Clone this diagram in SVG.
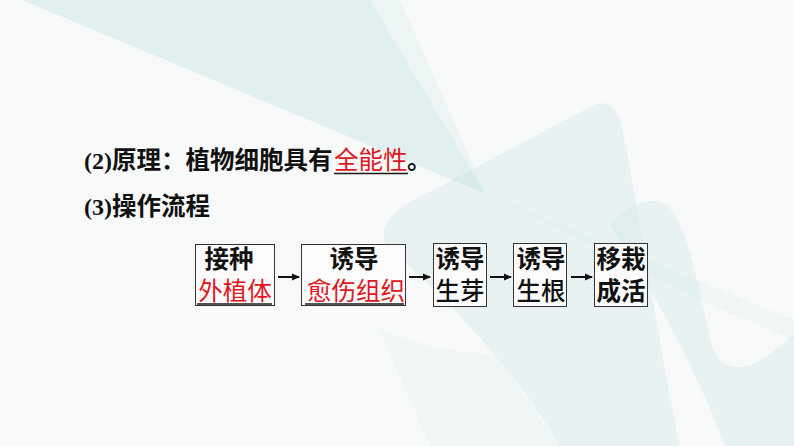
<svg xmlns="http://www.w3.org/2000/svg" width="794" height="446" viewBox="0 0 794 446">
<defs>
<style>
.bk{font-family:"Noto Sans CJK SC","Liberation Sans",sans-serif;font-size:24.5px;font-weight:700;fill:#111}
.bkr{font-family:"Noto Sans CJK SC","Liberation Sans",sans-serif;font-size:24.5px;font-weight:500;fill:#111}
.rd{font-family:"Noto Sans CJK SC","Liberation Sans",sans-serif;font-size:24.5px;font-weight:400;fill:#e0161f}
.num{font-family:"Liberation Serif",serif;font-size:24px;font-weight:700;fill:#111}
.box{fill:#fcfcfc;stroke:#333;stroke-width:1}
.ul{stroke:#1a1a1a;stroke-width:1.6}
.bg{fill:#c3e3e3}
.conn line{stroke:#111;stroke-width:2}
</style>
<marker id="ah" markerWidth="8" markerHeight="8" refX="7" refY="4" orient="auto" markerUnits="userSpaceOnUse">
<path d="M0,0.5 L8,4 L0,7.5 Z" fill="#111"/>
</marker>
</defs>
<rect width="794" height="446" fill="#f8f9f9"/>
<g id="background">
<path class="bg" opacity="0.45" d="M22 0 L370 0 L486 194 Z"/>
<path class="bg" opacity="0.2" d="M370 0 L400 0 L486 194 Z"/>
<path class="bg" opacity="0.28" d="M386 245 C378 228 392 210 420 197 L588 108 C604 98 616 104 621 124 C640 210 652 310 680 446 L560 446 C520 380 470 320 386 245 Z"/>
<path class="bg" opacity="0.28" d="M610 225 C630 202 655 195 668 206 C690 228 700 300 712 345 C720 372 742 372 765 358 L794 334 L794 446 L725 446 C700 380 660 300 610 225 Z"/>
<path class="bg" opacity="0.15" d="M486 194 L794 320 L794 340 L700 300 Z"/>
<path class="bg" opacity="0.15" d="M380 330 C420 345 460 355 495 353 L560 446 L430 446 Z"/>
</g>
<g id="line2">
<text class="num" x="84" y="169">(2)</text>
<text class="bk" x="112" y="169">原理：植物细胞具有</text>
<text class="rd" x="334" y="169">全能性</text>
<line class="ul" x1="334" y1="173.5" x2="408" y2="173.5"/>
<text class="bk" x="407" y="169">。</text>
</g>
<g id="line3">
<text class="num" x="84" y="215">(3)</text>
<text class="bk" x="112" y="215">操作流程</text>
</g>
<g id="node1">
<rect class="box" x="195.5" y="244.5" width="79" height="61"/>
<text class="bk" x="229" y="268" text-anchor="middle">接种</text>
<text class="rd" x="235" y="300" text-anchor="middle">外植体</text>
<line class="ul" x1="197" y1="304" x2="272" y2="304"/>
</g>
<g id="node2">
<rect class="box" x="301.5" y="244.5" width="104" height="61"/>
<text class="bk" x="354" y="268" text-anchor="middle">诱导</text>
<text class="rd" x="356" y="300" text-anchor="middle">愈伤组织</text>
<line class="ul" x1="305" y1="304" x2="404" y2="304"/>
</g>
<g id="node3">
<rect class="box" x="433.5" y="243.5" width="53" height="63"/>
<text class="bk" x="460" y="268" text-anchor="middle">诱导</text>
<text class="bkr" x="460" y="300" text-anchor="middle">生芽</text>
</g>
<g id="node4">
<rect class="box" x="513.5" y="243.5" width="53" height="63"/>
<text class="bk" x="541" y="268" text-anchor="middle">诱导</text>
<text class="bkr" x="541" y="300" text-anchor="middle">生根</text>
</g>
<g id="node5">
<rect class="box" x="594.5" y="243.5" width="53" height="63"/>
<text class="bk" x="621" y="268" text-anchor="middle">移栽</text>
<text class="bk" x="621" y="300" text-anchor="middle">成活</text>
</g>
<g id="connectors" class="conn">
<line x1="278" y1="277" x2="299" y2="277" marker-end="url(#ah)"/>
<line x1="409" y1="277" x2="430" y2="277" marker-end="url(#ah)"/>
<line x1="490" y1="277" x2="511" y2="277" marker-end="url(#ah)"/>
<line x1="571" y1="277" x2="592" y2="277" marker-end="url(#ah)"/>
</g>
</svg>
